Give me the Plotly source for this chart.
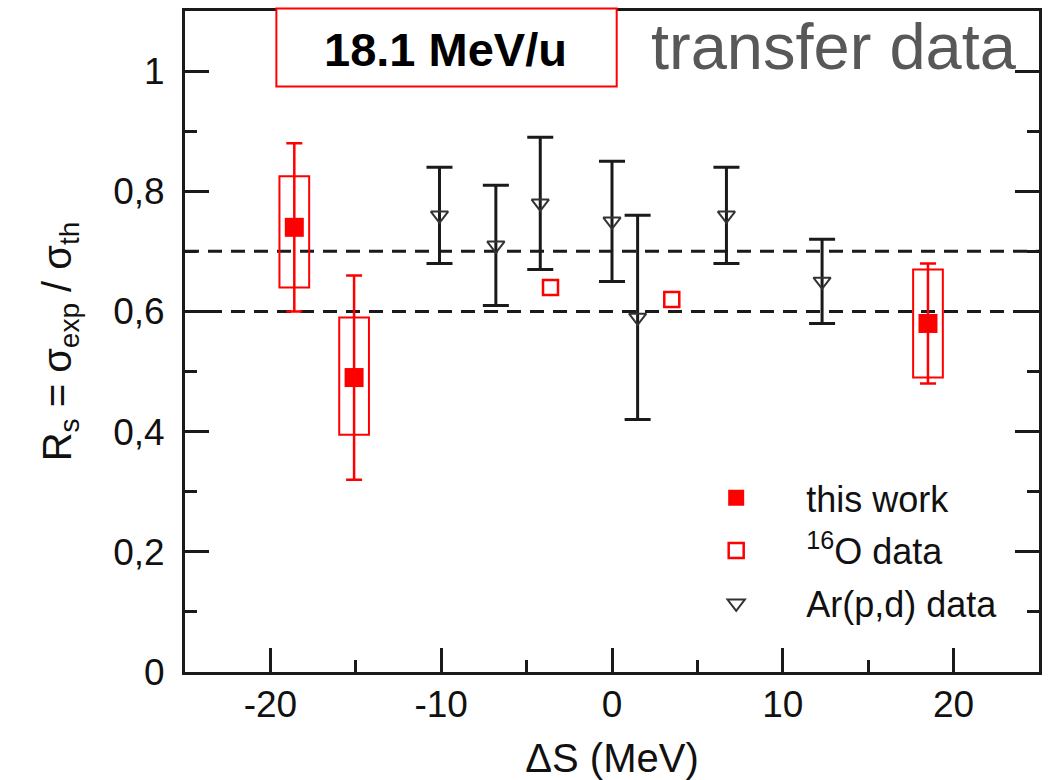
import plotly.graph_objects as go

# ---------------- data ----------------
# "this work" (filled red squares, error bars + systematic boxes)
tw_x = [-18.6, -15.1, 18.5]
tw_y = [0.74, 0.49, 0.58]
tw_err_hi = [0.88, 0.66, 0.68]
tw_err_lo = [0.60, 0.32, 0.48]
tw_box_hi = [0.825, 0.59, 0.67]
tw_box_lo = [0.64, 0.395, 0.49]

# 16O data (open red squares)
o16_x = [-3.6, 3.5]
o16_y = [0.64, 0.62]

# Ar(p,d) data (open down triangles with error bars)
ar_x = [-10.1, -6.8, -4.2, 0.0, 1.5, 6.7, 12.3]
ar_y = [0.76, 0.71, 0.78, 0.75, 0.59, 0.76, 0.65]
ar_hi = [0.84, 0.81, 0.89, 0.85, 0.76, 0.84, 0.72]
ar_lo = [0.68, 0.61, 0.67, 0.65, 0.42, 0.68, 0.58]

# reference band (dashed lines)
ref_lines = [0.6, 0.7]

# ticks
x_tickvals = [-20, -10, 0, 10, 20]
x_ticktext = ["-20", "-10", "0", "10", "20"]
y_tickvals = [0, 0.2, 0.4, 0.6, 0.8, 1.0]
y_ticktext = ["0", "0,2", "0,4", "0,6", "0,8", "1"]

# legend labels
legend_names = ["this work", "<sup>16</sup>O data", "Ar(p,d) data"]

# ---------------- style ----------------
FONT = "Liberation Sans, Arial, sans-serif"
RED = "#ff0000"
BLK = "#1a1a1a"
BOX_HALF = 0.87
PAD = "\u00a0" * 5

fig = go.Figure()

fig.add_trace(go.Scatter(
    x=tw_x, y=tw_y, mode="markers", name=PAD + legend_names[0], legendgroup="a",
    marker=dict(symbol="square", size=19, color=RED, line=dict(width=0)),
    error_y=dict(type="data", symmetric=False,
                 array=[h - v for h, v in zip(tw_err_hi, tw_y)],
                 arrayminus=[v - l for v, l in zip(tw_y, tw_err_lo)],
                 color=RED, thickness=2.5, width=8),
))

fig.add_trace(go.Scatter(
    x=o16_x, y=o16_y, mode="markers", name=PAD + legend_names[1], legendgroup="b",
    marker=dict(symbol="square-open", size=15, color=RED, line=dict(width=2.5, color=RED)),
))

fig.add_trace(go.Scatter(
    x=ar_x, y=ar_y, mode="markers", name=PAD + legend_names[2], legendgroup="c",
    marker=dict(symbol="triangle-down-open", size=15, color="#333333",
                line=dict(width=2, color="#333333")),
    error_y=dict(type="data", symmetric=False,
                 array=[h - v for h, v in zip(ar_hi, ar_y)],
                 arrayminus=[v - l for v, l in zip(ar_y, ar_lo)],
                 color=BLK, thickness=3, width=13),
))

shapes = []
for r in ref_lines:
    shapes.append(dict(type="line", xref="paper", yref="y", x0=0, x1=1, y0=r, y1=r,
                       line=dict(color=BLK, width=3, dash="14px,9px"), layer="below"))
for xv, lo, hi in zip(tw_x, tw_box_lo, tw_box_hi):
    shapes.append(dict(type="rect", xref="x", yref="y",
                       x0=xv - BOX_HALF, x1=xv + BOX_HALF, y0=lo, y1=hi,
                       line=dict(color=RED, width=2), fillcolor="rgba(0,0,0,0)", layer="above"))
# energy label box
shapes.append(dict(type="rect", xref="paper", yref="paper",
                   x0=0.107, x1=0.5055, y0=0.8857, y1=1.0038,
                   line=dict(color=RED, width=2), fillcolor="white", layer="above"))

annotations = [
    dict(text="<b>18.1 MeV/u</b>", xref="paper", yref="paper", x=0.3056, y=0.9417,
         xanchor="center", yanchor="middle", showarrow=False,
         font=dict(family=FONT, size=47, color="black")),
    dict(text="transfer data", xref="paper", yref="paper", x=0.760, y=0.946,
         xanchor="center", yanchor="middle", showarrow=False,
         font=dict(family=FONT, size=65, color="#585858")),
]

axis_common = dict(
    showgrid=False, zeroline=False, showline=True, linecolor=BLK, linewidth=3,
    ticks="inside", ticklen=24, tickwidth=2.5, tickcolor=BLK, automargin=False,
    tickfont=dict(family=FONT, size=37, color="#111111"),
)

fig.update_layout(
    width=1053, height=780,
    margin=dict(l=185, r=14, t=11, b=108),
    paper_bgcolor="white", plot_bgcolor="white",
    font=dict(family=FONT, color="#111111"),
    shapes=shapes, annotations=annotations,
    showlegend=True,
    legend=dict(x=0.622, y=0.309, xanchor="left", yanchor="top",
                bgcolor="rgba(0,0,0,0)", font=dict(family=FONT, size=36, color="#111111"),
                tracegroupgap=3, itemwidth=30),
    xaxis=dict(range=[-25, 25], mirror=True,
               tickmode="array", tickvals=x_tickvals, ticktext=x_ticktext,
               minor=dict(dtick=5, tick0=0, ticks="inside", ticklen=12, tickwidth=2.5, tickcolor=BLK),
               ticklabelstandoff=-2,
               title=dict(text="ΔS (MeV)", font=dict(family=FONT, size=40, color="#111111"),
                          standoff=24),
               **axis_common),
    yaxis=dict(range=[0, 1.1], mirror="ticks",
               tickmode="array", tickvals=y_tickvals, ticktext=y_ticktext,
               minor=dict(dtick=0.1, tick0=0, ticks="inside", ticklen=12, tickwidth=2.5, tickcolor=BLK),
               ticklabelstandoff=10,
               title=dict(text="R<sub>s</sub> = σ<sub>exp</sub> / σ<sub>th</sub>",
                          font=dict(family=FONT, size=40, color="#111111"), standoff=30),
               **axis_common),
)

fig.write_html("out.html")
